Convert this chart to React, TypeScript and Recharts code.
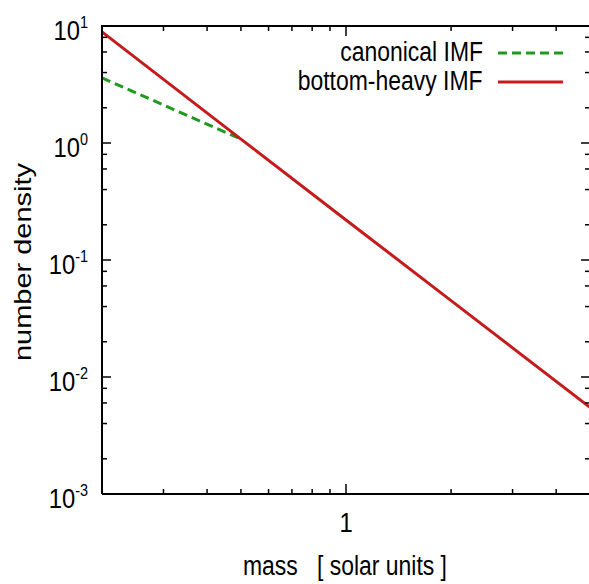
import { LineChart, Line, XAxis, YAxis, Label, ReferenceLine } from 'recharts'

const FONT = '"Liberation Sans", Arial, Helvetica, sans-serif'
// the figure looks squeezed sideways, so horizontal text gets narrowed a bit
const SQUEEZE = 0.85
const PLOT_H = 468

// mass axis, log scale
const massDomain = [0.2, 5]
const massTicks = [0.2, 0.3, 0.4, 0.5, 0.6, 0.7, 0.8, 0.9, 1, 2, 3, 4, 5]
const massLabels = [1]

// number density axis, log scale
const densityDomain = [0.001, 10]
const densityTicks = [
  0.001, 0.002, 0.004, 0.006, 0.008,
  0.01, 0.02, 0.04, 0.06, 0.08,
  0.1, 0.2, 0.4, 0.6, 0.8,
  1, 2, 4, 6, 8,
  10,
]
const densityDecades = [0.001, 0.01, 0.1, 1, 10]
const densityExponents = ['-3', '-2', '-1', '0', '1']

// series
const canonicalMass = [0.2, 0.5]
const canonicalDensity = [3.6, 1.08]
const bottomHeavyMass = [0.2, 0.5, 1, 2, 5]
const bottomHeavyDensity = [8.9, 1.08, 0.22, 0.045, 0.0055]

const seriesNames = ['canonical IMF', 'bottom-heavy IMF']
const seriesColors = ['#1f9a1f', '#c41c1c']
const seriesDash = ['9 5', undefined]

const toRows = (xs: number[], ys: number[]) => xs.map((mass, i) => ({ mass, density: ys[i] }))
const canonical = toRows(canonicalMass, canonicalDensity)
const bottomHeavy = toRows(bottomHeavyMass, bottomHeavyDensity)

const isEdge = (v: number) => v === massDomain[0] || v === massDomain[1]

// bottom axis tick, also mirrors the tick onto the top frame edge
function BottomTick({ x, y, payload }: any) {
  const v = payload.value
  if (isEdge(v)) return <g />
  const major = massLabels.includes(v)
  const len = major ? 10 : 5
  const top = y - PLOT_H
  return (
    <g>
      <line x1={x} x2={x} y1={y} y2={y - len} stroke="#000" strokeWidth={1.5} />
      <line x1={x} x2={x} y1={top} y2={top + len} stroke="#000" strokeWidth={1.5} />
      {major && (
        <text transform={`translate(${x},${y + 38}) scale(${SQUEEZE},1)`} textAnchor="middle" fontSize={28} fontFamily={FONT} fill="#000">
          {v}
        </text>
      )}
    </g>
  )
}

function LeftTick({ x, y, payload }: any) {
  const idx = densityDecades.indexOf(payload.value)
  const major = idx >= 0
  return (
    <g>
      <line x1={x} x2={x + (major ? 9 : 5)} y1={y} y2={y} stroke="#000" strokeWidth={1.5} />
      {major && (
        <text transform={`translate(${x - 14},${y + 14}) scale(${SQUEEZE},1)`} textAnchor="end" fontSize={28} fontFamily={FONT} fill="#000">
          10
          <tspan dy={-12} fontSize={17}>{densityExponents[idx]}</tspan>
        </text>
      )}
    </g>
  )
}

function RightTick({ x, y, payload }: any) {
  const major = densityDecades.includes(payload.value)
  return <line x1={x} x2={x - (major ? 9 : 5)} y1={y} y2={y} stroke="#000" strokeWidth={1.5} />
}

function XTitle({ viewBox }: any) {
  const cx = viewBox.x + viewBox.width / 2
  return (
    <text transform={`translate(${cx - 1},${viewBox.y + 81}) scale(${SQUEEZE},1)`} textAnchor="middle" fontSize={27} fontFamily={FONT} fill="#000" style={{ whiteSpace: 'pre' }}>
      {'mass   [ solar units ]'}
    </text>
  )
}

function YTitle({ viewBox }: any) {
  const cy = 262
  return (
    <text transform={`translate(${viewBox.x + 29},${cy}) scale(${SQUEEZE},1) rotate(-90)`} textAnchor="middle" fontSize={29} fontFamily={FONT} fill="#000">
      number density
    </text>
  )
}

function LegendBox() {
  return (
    <div style={{ position: 'absolute', top: 38, left: 263, width: 300, fontFamily: FONT, fontSize: 27, color: '#000' }}>
      {seriesNames.map((name, i) => (
        <div key={name} style={{ display: 'flex', alignItems: 'center', justifyContent: 'flex-end', height: 29 }}>
          <span style={{ whiteSpace: 'nowrap', lineHeight: '29px', transform: `scaleX(${SQUEEZE})`, transformOrigin: 'right center' }}>{name}</span>
          <svg width={65} height={8} style={{ marginLeft: 15, display: 'block', flex: 'none' }}>
            <line x1={0} x2={65} y1={4} y2={4} stroke={seriesColors[i]} strokeWidth={3} strokeDasharray={seriesDash[i]} />
          </svg>
        </div>
      ))}
    </div>
  )
}

export default function App() {
  const axisLine = { stroke: '#000', strokeWidth: 2 }
  return (
    <div style={{ position: 'absolute', left: 0, top: 0, width: 589, height: 584, overflow: 'hidden', background: '#fff' }}>
      <LineChart width={600} height={584} margin={{ top: 26, right: 9, bottom: 60, left: 2 }}>
        <XAxis
          xAxisId="bottom"
          dataKey="mass"
          type="number"
          scale="log"
          domain={massDomain}
          ticks={massTicks}
          interval={0}
          height={30}
          tickSize={0}
          tickMargin={0}
          tickLine={false}
          axisLine={axisLine}
          tick={BottomTick}
        >
          <Label content={XTitle} />
        </XAxis>
        <YAxis
          yAxisId="left"
          type="number"
          scale="log"
          domain={densityDomain}
          ticks={densityTicks}
          interval={0}
          width={100}
          tickSize={0}
          tickMargin={0}
          tickLine={false}
          axisLine={axisLine}
          tick={LeftTick}
        >
          <Label content={YTitle} />
        </YAxis>
        <YAxis
          yAxisId="right"
          orientation="right"
          type="number"
          scale="log"
          domain={densityDomain}
          ticks={densityTicks}
          interval={0}
          width={1}
          tickSize={0}
          tickMargin={0}
          tickLine={false}
          axisLine={axisLine}
          tick={RightTick}
        />
        {/* top edge of the frame */}
        <ReferenceLine xAxisId="bottom" yAxisId="left" y={densityDomain[1]} stroke="#000" strokeWidth={2} ifOverflow="visible" />
        {/* both y axes share one domain, so each series sits on one of them */}
        <Line
          xAxisId="bottom"
          yAxisId="left"
          data={canonical}
          dataKey="density"
          name={seriesNames[0]}
          stroke={seriesColors[0]}
          strokeWidth={3}
          strokeDasharray={seriesDash[0]}
          dot={false}
          isAnimationActive={false}
        />
        <Line
          xAxisId="bottom"
          yAxisId="right"
          data={bottomHeavy}
          dataKey="density"
          name={seriesNames[1]}
          stroke={seriesColors[1]}
          strokeWidth={3}
          dot={false}
          isAnimationActive={false}
        />
      </LineChart>
      {/* plain frame edge along the top, in case the svg one is not drawn */}
      <div style={{ position: 'absolute', left: 101, top: 25, width: 489, height: 2, background: '#000' }} />
      <LegendBox />
    </div>
  )
}
